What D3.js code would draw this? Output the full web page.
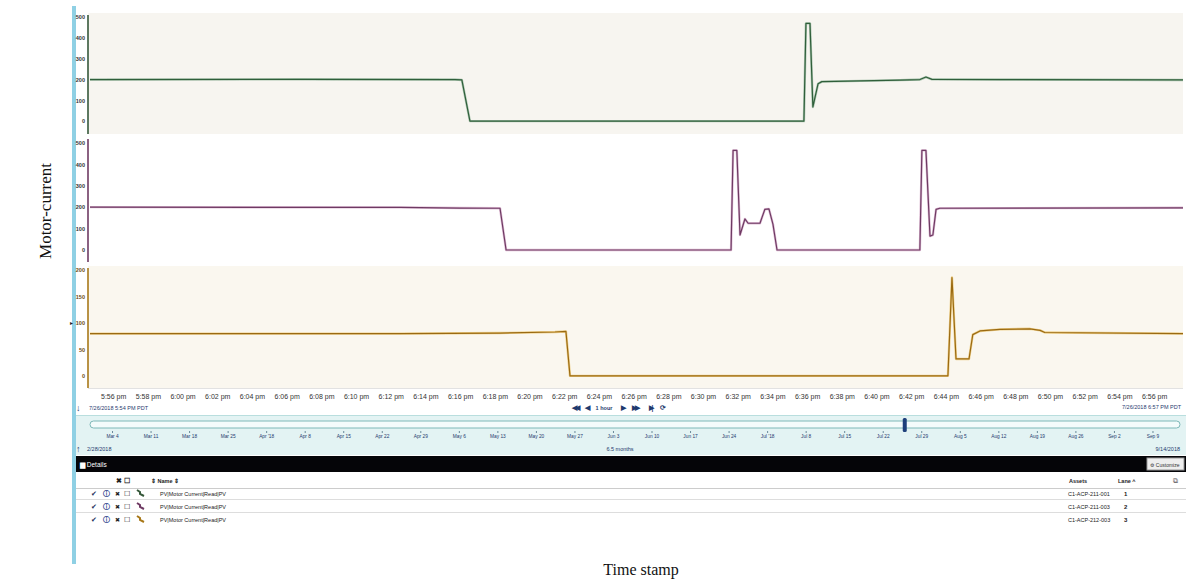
<!DOCTYPE html>
<html><head><meta charset="utf-8">
<script src="https://cdn.jsdelivr.net/npm/d3@7/dist/d3.min.js"></script>
<style>body{margin:0;background:#fff}svg{display:block}text{font-family:"Liberation Sans",Arial,sans-serif}</style>
</head><body><svg id="c" width="1186" height="584"></svg>
<script>
// ---------- data ----------
const timeDomain = ["17:54:40", "18:57:40"];
const timeTickStep = 2; // minutes
const series1Times = ["17:54:40","18:06:46","18:15:42","18:16:06","18:16:34","18:35:49","18:35:56","18:36:10","18:36:20","18:36:38","18:36:51","18:41:21","18:42:30","18:42:51","18:43:12","18:47:07","18:57:40"];
const series1Values = [200,201,200,198,0,0,470,470,68,180,190,197,200,212,201,200,198];
const series2Times = ["17:54:40","18:12:32","18:15:59","18:18:18","18:18:39","18:31:37","18:31:44","18:31:57","18:32:08","18:32:25","18:32:36","18:33:17","18:33:34","18:33:48","18:34:02","18:34:16","18:42:30","18:42:37","18:42:51","18:43:05","18:43:15","18:43:26","18:43:39","18:57:40"];
const series2Values = [200,199,196,195,0,0,465,465,70,145,125,125,190,192,120,0,0,465,465,65,70,190,195,197];
const series3Times = ["17:54:40","18:12:32","18:18:18","18:21:28","18:22:06","18:22:20","18:44:07","18:44:21","18:44:35","18:45:20","18:45:33","18:45:58","18:47:07","18:48:51","18:49:26","18:49:42","18:57:40"];
const series3Values = [80,80,81,83,84,0,0,186,32,32,78,85,88,89,86,82,80];
const series1Ticks = [0,100,200,300,400,500];
const series2Ticks = [0,100,200,300,400,500];
const series3Ticks = [0,50,100,150,200];
const navDomain = ["2018-02-28","2018-09-14"];
const navHandleDate = "2018-07-26";
const rowNames = ["PV|Motor Current|Read|PV","PV|Motor Current|Read|PV","PV|Motor Current|Read|PV"];
const rowAssets = ["C1-ACP-211-001","C1-ACP-211-003","C1-ACP-212-003"];
const rowLanes = ["1","2","3"];

// ---------- drawing ----------
const svg = d3.select("#c");
const parseT = d3.timeParse("%Y-%m-%d %H:%M:%S");
const pt = s => parseT("2018-07-26 " + s);
const x = d3.scaleTime().domain(timeDomain.map(pt)).range([90, 1183]);

// left blue frame bar
svg.append("rect").attr("x",72).attr("y",6).attr("width",4).attr("height",558).attr("fill","#8fd0e4");

const panels = [
  {times:series1Times, vals:series1Values, ticks:series1Ticks, dom:[-62,520], rng:[134,13], bg:"#f7f5f0", top:13, bot:134, color:"#2f5f3a", glow:"#7fa88a", axis:"#35583a", lab:"#333"},
  {times:series2Times, vals:series2Values, ticks:series2Ticks, dom:[-56,523], rng:[262,138], bg:"#ffffff", top:137, bot:262, color:"#6e3a63", glow:"#c890b8", axis:"#6e3a63", lab:"#333"},
  {times:series3Times, vals:series3Values, ticks:series3Ticks, dom:[-23,206], rng:[388,267], bg:"#faf7ef", top:266, bot:388, color:"#9a6a12", glow:"#e8b84a", axis:"#a87818", lab:"#6b4a10"}
];

panels.forEach((p,i) => {
  const y = d3.scaleLinear().domain(p.dom).range(p.rng);
  svg.append("rect").attr("x",88).attr("y",p.top).attr("width",1095).attr("height",p.bot-p.top).attr("fill",p.bg);
  if (i===2) svg.append("line").attr("x1",88).attr("x2",1183).attr("y1",p.bot+0.5).attr("y2",p.bot+0.5).attr("stroke","#e2e2e2");
  const ax = svg.append("g").attr("transform","translate(88,0)")
    .call(d3.axisLeft(y).tickValues(p.ticks).tickSize(0).tickPadding(3));
  ax.select(".domain").remove();
  ax.selectAll("text").attr("font-size",5.5).attr("font-weight","bold").attr("fill",p.lab);
  svg.append("line").attr("x1",88).attr("x2",88).attr("y1",p.top+2).attr("y2",p.bot).attr("stroke",p.axis).attr("stroke-width",1.6);
  const data = p.times.map((t,k)=>({t:pt(t), v:p.vals[k]}));
  const line = d3.line().x(d=>x(d.t)).y(d=>y(d.v));
  svg.append("path").datum(data).attr("d",line).attr("fill","none").attr("stroke",p.glow).attr("stroke-width",2.4).attr("stroke-linejoin","round").attr("opacity",0.6);
  svg.append("path").datum(data).attr("d",line).attr("fill","none").attr("stroke",p.color).attr("stroke-width",1.2).attr("stroke-linejoin","round");
});
// small pointer arrow at left of bottom panel
svg.append("text").attr("x",70).attr("y",325).attr("font-size",6).attr("fill","#222").text("▸");

// time axis
const tAxis = svg.append("g").attr("transform","translate(0,391)")
  .call(d3.axisBottom(x).ticks(d3.timeMinute.every(timeTickStep)).tickSize(0).tickPadding(3)
    .tickFormat(d=>d3.timeFormat("%-I:%M")(d)+" pm"));
tAxis.select(".domain").remove();
tAxis.selectAll("text").attr("font-size",7).attr("fill","#333");
tAxis.selectAll(".tick").filter(d=>d<pt("17:55:30")||d>pt("18:57:00")).remove();

svg.append("text").attr("x",76).attr("y",411).attr("font-size",9).attr("fill","#1f3a6e").text("↓");
svg.append("text").attr("x",89).attr("y",410).attr("font-size",5.5).attr("fill","#1f3a6e").text("7/26/2018 5:54 PM PDT");
svg.append("text").attr("x",1181).attr("y",409).attr("font-size",5.5).attr("text-anchor","end").attr("fill","#1f3a6e").text("7/26/2018 6:57 PM PDT");
const ctrl = [["◀◀",575],["◀",587],["1 hour",604],["▶",623],["▶▶",635],["▶|",650],["⟳",663]];
ctrl.forEach(c=>svg.append("text").attr("x",c[1]).attr("y",410).attr("font-size",c[0]==="1 hour"?5.5:6.5)
  .attr("text-anchor","middle").attr("font-weight","bold").attr("letter-spacing",c[0].length===2?-2:0)
  .attr("fill","#1f3a6e").text(c[0]));

// navigator band
svg.append("rect").attr("x",76).attr("y",415).attr("width",1110).attr("height",40).attr("fill","#e3f3f3");
svg.append("line").attr("x1",76).attr("x2",1186).attr("y1",415.5).attr("y2",415.5).attr("stroke","#b9dede");
const nx = d3.scaleTime().domain(navDomain.map(d=>d3.timeParse("%Y-%m-%d")(d))).range([90,1180]);
svg.append("rect").attr("x",90).attr("y",421).attr("width",1090).attr("height",7).attr("rx",3.5)
  .attr("fill","#f4fbfb").attr("stroke","#7fb8b8").attr("stroke-width",1);
const hx = nx(d3.timeParse("%Y-%m-%d")(navHandleDate));
svg.append("rect").attr("x",hx-2).attr("y",418).attr("width",4).attr("height",14).attr("rx",1.5).attr("fill","#1d3f7a");
const nAxis = svg.append("g").attr("transform","translate(0,431)")
  .call(d3.axisBottom(nx).ticks(d3.timeWeek.every(1)).tickSize(2).tickPadding(2)
    .tickFormat(d=>d.getDate()===1?d3.timeFormat("%b '%y")(d):d3.timeFormat("%b %-d")(d)));
nAxis.select(".domain").remove();
nAxis.selectAll("line").attr("stroke","#6a8a9a");
nAxis.selectAll("text").attr("font-size",4.8).attr("fill","#1f3a6e");
svg.append("text").attr("x",76).attr("y",452).attr("font-size",9).attr("fill","#1f3a6e").text("↑");
svg.append("text").attr("x",87).attr("y",451).attr("font-size",5.5).attr("fill","#1f3a6e").text("2/28/2018");
svg.append("text").attr("x",1180).attr("y",451).attr("font-size",5.5).attr("text-anchor","end").attr("fill","#1f3a6e").text("9/14/2018");
svg.append("text").attr("x",620).attr("y",451).attr("font-size",5.5).attr("text-anchor","middle").attr("fill","#1f3a6e").text("6.5 months");

// details bar
svg.append("rect").attr("x",76).attr("y",456).attr("width",1110).attr("height",16).attr("fill","#050508");
svg.append("text").attr("x",80).attr("y",467).attr("font-size",6.5).attr("fill","#fff").text("▆ Details");
svg.append("rect").attr("x",1147).attr("y",458).attr("width",37).attr("height",12).attr("fill","#eeeeee").attr("stroke","#999");
svg.append("text").attr("x",1165).attr("y",466.5).attr("font-size",5).attr("text-anchor","middle").attr("fill","#333").text("⚙ Customize");

// table
const tbl = svg.append("g");
tbl.append("rect").attr("x",76).attr("y",472).attr("width",1110).attr("height",56).attr("fill","#ffffff");
tbl.append("text").attr("x",116).attr("y",483).attr("font-size",6.5).attr("font-weight","bold").attr("fill","#222").text("✖ ☐");
tbl.append("text").attr("x",151).attr("y",483).attr("font-size",5.5).attr("font-weight","bold").attr("fill","#222").text("⇕ Name ⇕");
tbl.append("text").attr("x",1069).attr("y",483).attr("font-size",5.5).attr("font-weight","bold").attr("fill","#222").text("Assets");
tbl.append("text").attr("x",1118).attr("y",483).attr("font-size",5.5).attr("font-weight","bold").attr("fill","#222").text("Lane ^");
tbl.append("text").attr("x",1173).attr("y",483).attr("font-size",7).attr("fill","#555").text("⧉");
tbl.append("line").attr("x1",76).attr("x2",1186).attr("y1",488.5).attr("y2",488.5).attr("stroke","#ccc");
const rowColors = panels.map(p=>p.axis);
rowNames.forEach((n,i)=>{
  const ry = 496 + i*13;
  tbl.append("text").attr("x",91).attr("y",ry).attr("font-size",7).attr("fill","#1f2f5a").text("✔");
  tbl.append("text").attr("x",103).attr("y",ry).attr("font-size",6.5).attr("font-weight","bold").attr("fill","#1f3a8a").text("ⓘ");
  tbl.append("text").attr("x",115).attr("y",ry).attr("font-size",6).attr("fill","#222").text("✖");
  tbl.append("text").attr("x",124).attr("y",ry).attr("font-size",7).attr("fill","#222").text("☐");
  tbl.append("path").attr("d",`M137,${ry-6} l3,2 l0,2 l4,2`).attr("fill","none").attr("stroke",rowColors[i]).attr("stroke-width",2);
  tbl.append("text").attr("x",160).attr("y",ry).attr("font-size",5.5).attr("fill","#222").text(n);
  tbl.append("text").attr("x",1068).attr("y",ry).attr("font-size",5.5).attr("fill","#222").text(rowAssets[i]);
  tbl.append("text").attr("x",1124).attr("y",ry).attr("font-size",6).attr("font-weight","bold").attr("fill","#222").text(rowLanes[i]);
  if (i<2) tbl.append("line").attr("x1",76).attr("x2",1186).attr("y1",ry+3.5).attr("y2",ry+3.5).attr("stroke","#ddd");
});

// axis titles
svg.append("text").attr("transform","translate(51,211) rotate(-90)").attr("text-anchor","middle")
  .style("font-family","'Liberation Serif','Times New Roman',serif").attr("font-size",17).attr("fill","#111").text("Motor-current");
svg.append("text").attr("x",641).attr("y",575).attr("text-anchor","middle")
  .style("font-family","'Liberation Serif','Times New Roman',serif").attr("font-size",16).attr("fill","#111").text("Time stamp");
</script></body></html>
